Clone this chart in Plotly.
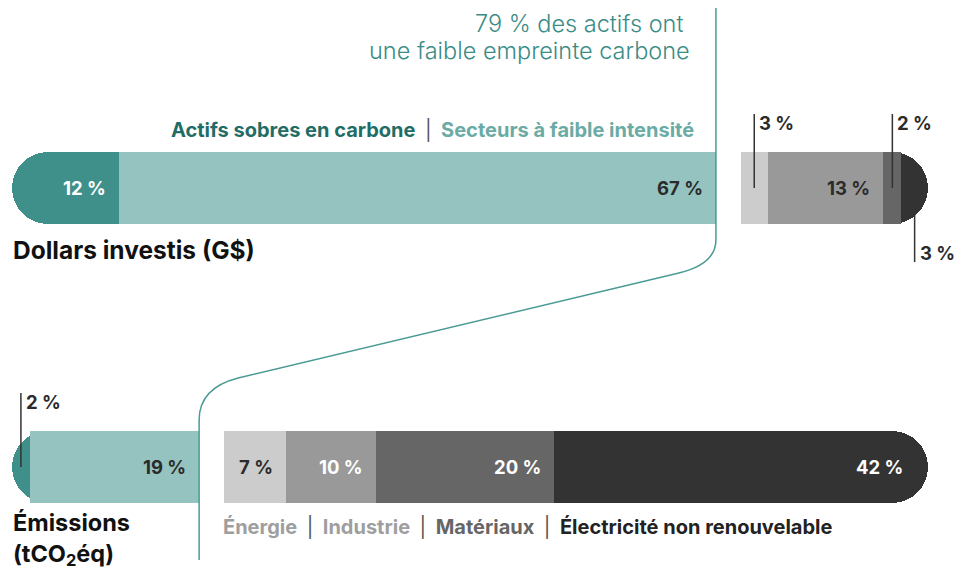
import plotly.graph_objects as go

# ---------------- data ----------------
row_labels = ["Dollars investis (G$)", "Émissions<br>(tCO<sub>2</sub>éq)"]
low_names = ["Actifs sobres en carbone", "Secteurs à faible intensité"]
high_names = ["Énergie", "Industrie", "Matériaux", "Électricité non renouvelable"]

invest_low = [12, 67]          # % des dollars investis
invest_high = [3, 13, 2, 3]
emis_low = [2, 19]             # % des émissions
emis_high = [7, 10, 20, 42]

# ---------------- styles ----------------
low_colors = ["#3f8f8a", "#95c3c0"]
high_colors = ["#cccccc", "#999999", "#666666", "#333333"]
label_colors_top = ["white", "#2b2b2b", "#2b2b2b", "#2b2b2b", "#2b2b2b", "#2b2b2b"]
label_colors_bot = ["#2b2b2b", "#2b2b2b", "#2b2b2b", "white", "white", "white"]
legend_text_colors = ["#9e9e9e", "#9e9e9e", "#666666", "#222222"]
TEAL_LINE = "#4a9a94"
FONT = "Inter"

OFF = 8                        # default page margin of the html body
W, H = 964 - OFF, 573 - OFF
ML, MR = 12 - OFF, 36
PLOT_W = W - ML - MR
GAP = 2.8                      # gap between the two groups (in % units)
XMAX = 100 + GAP
DX = XMAX / PLOT_W             # data units per pixel (x)
PX_Y = 279.0                   # pixels per y unit
TOP_PX = 188.0 - OFF           # pixel centre of the top bar (figure coords)
YMAX = 1 + TOP_PX / PX_Y
YMIN = -(H - (TOP_PX + PX_Y)) / PX_Y
BAR_W = 72 / PX_Y
R = 36 * DX                    # radius of the rounded ends, in x units
CAP = 2.5 * R


def ypx(p):
    """data y for a window pixel row p"""
    return 1 - (p - OFF - TOP_PX) / PX_Y


fig = go.Figure()
annotations = []
shapes = []


def bar(y, base, length, color, rounded=False):
    fig.add_trace(go.Bar(y=[y], x=[length], base=[base], orientation="h", width=BAR_W,
                         marker=dict(color=color, cornerradius="50%" if rounded else 0,
                                     line_width=0),
                         hoverinfo="skip"))


def text(x, y, s, size, color="#111111", weight=700, xanchor="left", xshift=0, align="left"):
    annotations.append(dict(x=x, y=y, xref="x", yref="y", text=s, xanchor=xanchor,
                            yanchor="middle", xshift=xshift, showarrow=False, align=align,
                            font=dict(family=FONT, size=size, color=color, weight=weight)))


rows = [
    (1, invest_low, invest_high, label_colors_top),
    (0, emis_low, emis_high, label_colors_bot),
]

for yrow, low, high, lcols in rows:
    vals = low + high
    cols = low_colors + high_colors
    starts = []
    pos = 0.0
    for i, v in enumerate(vals):
        if i == len(low):
            pos += GAP
        starts.append(pos)
        pos += v
    end = pos
    n = len(vals)
    # rounded caps at both ends of the row
    bar(yrow, starts[0], CAP, cols[0], rounded=True)
    bar(yrow, end - CAP, CAP, cols[-1], rounded=True)
    for i, (v, c, s) in enumerate(zip(vals, cols, starts)):
        first, last = i == 0, i == n - 1
        if first:
            if v > R:
                bar(yrow, s + R, v - R, c)
        elif last:
            if v > R:
                bar(yrow, s, v - R, c)
        else:
            bar(yrow, s, v, c)
        label = f"{v} %"
        if v >= 5:
            text(s + v, yrow, label, 18.5, lcols[i], xanchor="right",
                 xshift=-23 if last else -11)
        else:
            cx = s + v / 2
            sign = -1 if last else 1
            shapes.append(dict(type="line", xref="x", yref="y", x0=cx, x1=cx,
                               y0=yrow, y1=yrow + sign * 74 / PX_Y,
                               line=dict(color="#333333", width=1.5), layer="above"))
            text(cx, yrow + sign * 65 / PX_Y, label, 18.5, "#2b2b2b", xshift=3)

# row titles
text(0, ypx(250), row_labels[0], 24.5, xshift=-1)
text(0, ypx(539), row_labels[1], 23.5, xshift=-1)

top_b = sum(invest_low)
bot_b = sum(emis_low)

# headline (two lines)
text(top_b, ypx(23), f"{top_b} % des actifs ont", 23.5, "#3a8c86", weight=300,
     xanchor="right", xshift=-31)
text(top_b, ypx(50), "une faible empreinte carbone", 23.5, "#3a8c86", weight=300,
     xanchor="right", xshift=-24)

sep = "<span style='color:#555555;font-weight:400'>|</span>"
text(top_b, ypx(130),
     f"<span style='color:#1f6d66'>{low_names[0]}</span>  {sep}  "
     f"<span style='color:#6aaba5'>{low_names[1]}</span>",
     20, xanchor="right", xshift=-20)

parts = [f"<span style='color:{c}'>{n}</span>" for n, c in zip(high_names, legend_text_colors)]
text(bot_b + GAP, ypx(526), f"  {sep}  ".join(parts), 20, xshift=-3)

# connector line between the two group boundaries
xt = top_b
xb = bot_b
path = (f"M {xt},{YMAX} L {xt},{ypx(240)} "
        f"Q {xt},{ypx(264)} {xt - 37 * DX},{ypx(273)} "
        f"L {xb + 39 * DX},{ypx(378)} "
        f"Q {xb},{ypx(388)} {xb},{ypx(420)} "
        f"L {xb},{ypx(560)}")
shapes.append(dict(type="path", xref="x", yref="y", path=path,
                   line=dict(color=TEAL_LINE, width=1.5), layer="above"))

fig.update_layout(
    width=W, height=H,
    margin=dict(l=ML, r=MR, t=0, b=0),
    barmode="overlay", bargap=0,
    showlegend=False,
    plot_bgcolor="white", paper_bgcolor="white",
    xaxis=dict(range=[0, XMAX], visible=False, fixedrange=True),
    yaxis=dict(range=[YMIN, YMAX], visible=False, fixedrange=True),
    annotations=annotations,
    shapes=shapes,
    font=dict(family=FONT),
)

fig.write_html("out.html")
